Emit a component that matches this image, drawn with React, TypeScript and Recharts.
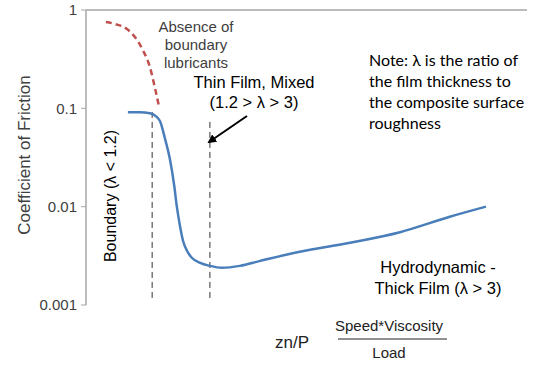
import { LineChart, Line, XAxis, YAxis, ReferenceLine } from "recharts";

// x is in arbitrary zn/P units (0..100), y is the coefficient of friction
const lubricatedX = [9.5, 12.2, 14.5, 15.9, 16.8, 17.9, 19.0, 20.0, 20.6, 21.3, 22.0, 22.9, 24.0, 25.9, 28.1, 30.8, 34.9, 39.5, 48.5, 59.9, 71.2, 82.5, 90.7];
const lubricatedY = [0.091, 0.091, 0.089, 0.0828, 0.0737, 0.0494, 0.0309, 0.0164, 0.01, 0.0064, 0.0045, 0.00356, 0.00302, 0.00268, 0.0025, 0.00239, 0.0025, 0.00281, 0.00348, 0.0043, 0.0055, 0.0079, 0.01];

const dryX = [4.5, 6.6, 9.3, 11.1, 12.9, 14.5, 15.6, 16.6];
const dryY = [0.754, 0.72, 0.64, 0.53, 0.39, 0.262, 0.164, 0.102];

const yTicks = [0.001, 0.01, 0.1, 1];
const regimeBounds = [
  { x: 15.0, top: 0.095 },
  { x: 28.1, top: 0.0755 },
];
const axisFloor = 0.00118;

const lubricated = lubricatedX.map((x, i) => ({ x, y: lubricatedY[i] }));
const dry = dryX.map((x, i) => ({ x, y: dryY[i] }));

const arial = "Arial, Liberation Sans, sans-serif";
const noteFont = "Lato, Open Sans, sans-serif";

export default function App() {
  return (
    <div style={{ position: "absolute", left: 0, top: 0, width: 535, height: 371, background: "#fff" }}>
      <LineChart width={535} height={371} margin={{ top: 10, right: 8, left: 0, bottom: 66 }}>
        <XAxis
          type="number"
          dataKey="x"
          domain={[0, 100]}
          height={0}
          tick={false}
          tickLine={false}
          axisLine={{ stroke: "#a6a6a6", strokeWidth: 1.5 }}
        />
        <YAxis
          type="number"
          dataKey="y"
          scale="log"
          domain={[0.001, 1]}
          ticks={yTicks}
          allowDataOverflow
          width={86}
          tick={{ fontSize: 15, fill: "#404040", fontFamily: arial }}
          tickSize={5}
          tickMargin={4}
          tickLine={{ stroke: "#a6a6a6" }}
          axisLine={{ stroke: "#a6a6a6", strokeWidth: 1.5 }}
        />
        <ReferenceLine y={1} stroke="#a6a6a6" strokeWidth={1.5} />
        {regimeBounds.map((b) => (
          <ReferenceLine
            key={b.x}
            segment={[{ x: b.x, y: axisFloor }, { x: b.x, y: b.top }]}
            stroke="#333"
            strokeDasharray="6 4"
            strokeWidth={1}
          />
        ))}
        <Line
          data={dry}
          dataKey="y"
          type="monotone"
          stroke="#c0504d"
          strokeWidth={2.5}
          strokeDasharray="6 4"
          dot={false}
          isAnimationActive={false}
        />
        <Line
          data={lubricated}
          dataKey="y"
          type="monotone"
          stroke="#4a7ebb"
          strokeWidth={2.5}
          dot={false}
          isAnimationActive={false}
        />
      </LineChart>
      <svg width={535} height={371} style={{ position: "absolute", left: 0, top: 0, pointerEvents: "none" }}>
        <defs>
          <marker id="ah" markerWidth="9" markerHeight="9" refX="7" refY="4.5" orient="auto" markerUnits="userSpaceOnUse">
            <path d="M0,0 L9,4.5 L0,9 Z" fill="#000" />
          </marker>
        </defs>
        <text x={30} y={155} transform="rotate(-90 30 155)" textAnchor="middle" fontSize={17} fill="#404040" fontFamily={arial}>
          Coefficient of Friction
        </text>
        <g fontFamily={arial} fontSize={15} fill="#404040" textAnchor="middle">
          <text x={196} y={32}>Absence of</text>
          <text x={196} y={50}>boundary</text>
          <text x={196} y={68}>lubricants</text>
        </g>
        <g fontFamily={arial} fontSize={16.5} fill="#000" textAnchor="middle">
          <text x={254} y={88}>Thin Film, Mixed</text>
          <text x={254} y={108}>(1.2 &gt; λ &gt; 3)</text>
          <text x={438} y={273}>Hydrodynamic -</text>
          <text x={438} y={294}>Thick Film (λ &gt; 3)</text>
          <text x={116} y={196} fontSize={16} transform="rotate(-90 116 196)">Boundary (λ &lt; 1.2)</text>
        </g>
        <line x1={247} y1={116} x2={209} y2={142} stroke="#000" strokeWidth={2} markerEnd="url(#ah)" />
        <g fontFamily={noteFont} fontSize={16} fill="#000">
          <text x={369} y={66}>Note: λ is the ratio of</text>
          <text x={369} y={87}>the film thickness to</text>
          <text x={369} y={108}>the composite surface</text>
          <text x={369} y={129}>roughness</text>
        </g>
        <g fontFamily={arial} fill="#222">
          <text x={275} y={348} fontSize={17}>zn/P</text>
          <text x={389} y={331} fontSize={15} textAnchor="middle">Speed*Viscosity</text>
          <line x1={338} y1={339} x2={447} y2={339} stroke="#222" strokeWidth={1} />
          <text x={389} y={358} fontSize={15} textAnchor="middle">Load</text>
        </g>
      </svg>
    </div>
  );
}
